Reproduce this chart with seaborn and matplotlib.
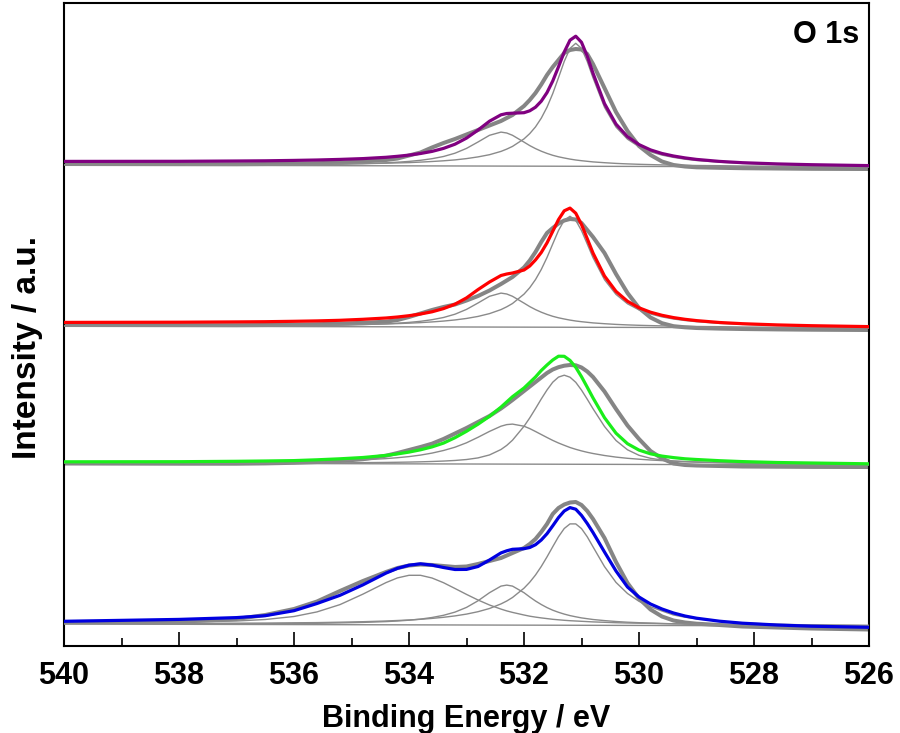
import numpy as np
import matplotlib
matplotlib.use("Agg")
import matplotlib.pyplot as plt
import seaborn as sns
from matplotlib.ticker import MultipleLocator

# Binding energy sampling points (eV)
energy = [540.0, 538.0, 537.0, 536.5, 536.0, 535.6, 535.2, 534.8, 534.4, 534.2, 534.0,
          533.8, 533.6, 533.4, 533.2, 533.0, 532.8, 532.6, 532.4, 532.3, 532.2, 532.0,
          531.9, 531.8, 531.7, 531.6, 531.5, 531.4, 531.3, 531.2, 531.1, 531.0, 530.9, 530.8,
          530.6, 530.4, 530.2, 530.0, 529.8, 529.6, 529.4, 529.2, 529.0,
          528.6, 528.2, 527.6, 527.0, 526.0]

# Straight background line (endpoints)
baseline_energy = [540.0, 526.0]
baseline_level = [1.0, -1.0]

# ---- Spectrum 1 (purple) ----
raw_1 = [2.0, 1.8, 1.8, 2.0, 2.3, 2.8, 3.5, 4.5, 6.0, 7.5, 10.5, 13.5, 18.5, 23.0, 27.0, 31.5,
         36.0, 40.5, 45.0, 48.0, 51.0, 60.0, 66.0, 73.0, 81.5, 91.0, 99.0, 106.0, 113.0, 116.0, 117.0, 116.5,
         112.0, 102.0, 78.0, 54.0, 35.0, 20.0, 11.0, 4.5, 1.0, -0.5, -1.3, -1.8, -2.2, -2.5, -2.8, -3.0]
fit_1 = [4.6, 4.7, 5.0, 5.2, 5.6, 6.0, 6.6, 7.4, 8.7, 9.7, 10.9, 12.5, 14.6, 17.6, 21.8, 27.9,
         35.9, 44.8, 51.2, 52.5, 52.8, 53.3, 55.2, 58.8, 64.8, 73.4, 85.0, 99.2, 114.0, 125.8, 129.8, 123.7,
         109.8, 92.8, 62.4, 41.9, 29.3, 21.4, 16.1, 12.5, 10.0, 8.1, 6.6, 4.6, 3.3, 2.1, 1.3, 0.4]
peak_1a = [1.4, 1.3, 1.4, 1.5, 1.6, 1.8, 2.0, 2.3, 2.8, 3.1, 3.4, 3.9, 4.5, 5.2, 6.1, 7.4,
           9.1, 11.3, 14.6, 16.9, 19.6, 27.1, 32.4, 39.1, 47.8, 58.8, 72.4, 88.3, 104.6, 117.6, 122.7, 117.6,
           104.5, 88.2, 58.7, 38.9, 26.8, 19.3, 14.2, 10.9, 8.6, 6.8, 5.5, 3.8, 2.6, 1.5, 0.8, 0.1]
peak_1b = [1.2, 1.1, 1.2, 1.3, 1.4, 1.6, 1.9, 2.4, 3.2, 3.8, 4.6, 5.7, 7.3, 9.5, 12.8, 17.6,
           24.0, 30.7, 33.9, 33.0, 30.7, 23.9, 20.4, 17.4, 14.8, 12.6, 10.7, 9.2, 8.0, 6.9, 6.0, 5.3,
           4.7, 4.1, 3.3, 2.6, 2.1, 1.7, 1.4, 1.1, 0.9, 0.7, 0.5, 0.3, 0.0, -0.2, -0.4, -0.7]

# ---- Spectrum 2 (red) ----
raw_2 = [2.0, 1.8, 1.8, 2.0, 2.3, 2.8, 3.4, 4.2, 5.3, 7.0, 10.0, 13.5, 17.0, 20.0, 22.5, 26.5,
         31.0, 36.5, 43.0, 46.5, 50.0, 59.5, 66.5, 75.0, 85.0, 94.0, 99.0, 103.5, 106.5, 108.0, 107.5, 104.0,
         97.0, 90.0, 74.0, 53.0, 34.0, 19.0, 9.5, 3.8, 0.8, -0.3, -1.0, -1.6, -2.0, -2.4, -2.7, -3.0]
fit_2 = [4.6, 4.8, 5.1, 5.3, 5.7, 6.1, 6.7, 7.7, 9.0, 10.0, 11.3, 13.0, 15.2, 18.4, 22.8, 29.1,
         37.4, 45.0, 51.5, 53.0, 54.0, 57.0, 61.0, 67.1, 74.5, 84.1, 95.7, 107.4, 116.2, 118.9, 113.8, 102.5,
         88.3, 74.0, 51.0, 35.6, 25.7, 19.2, 14.8, 11.7, 9.4, 7.7, 6.4, 4.5, 3.3, 2.1, 1.3, 0.4]
peak_2a = [1.4, 1.35, 1.45, 1.56, 1.72, 1.9, 2.15, 2.53, 3.05, 3.41, 3.84, 4.38, 5.07, 5.93, 7.06, 8.55,
           10.57, 13.39, 17.41, 20.2, 23.49, 32.86, 39.3, 47.43, 57.5, 69.5, 83.1, 96.5, 106.8, 110.7, 106.7, 96.4,
           83.0, 69.4, 47.3, 32.6, 23.2, 17.1, 13.0, 10.1, 8.0, 6.5, 5.3, 3.6, 2.6, 1.5, 0.8, 0.1]
peak_2b = [1.2, 1.1, 1.2, 1.3, 1.4, 1.6, 1.9, 2.4, 3.2, 3.8, 4.6, 5.7, 7.3, 9.5, 12.8, 17.6,
           24.0, 30.7, 33.9, 33.0, 30.7, 23.9, 20.4, 17.4, 14.8, 12.6, 10.7, 9.2, 8.0, 6.9, 6.0, 5.3,
           4.7, 4.1, 3.3, 2.6, 2.1, 1.7, 1.4, 1.1, 0.9, 0.7, 0.5, 0.3, 0.0, -0.2, -0.4, -0.7]

# ---- Spectrum 3 (green) ----
raw_3 = [0.5, 0.3, 0.3, 0.6, 1.2, 2.0, 3.0, 4.8, 8.3, 11.0, 14.0, 17.0, 20.3, 25.0, 30.5, 36.0,
         42.0, 48.0, 55.5, 59.7, 64.0, 73.0, 77.5, 82.0, 86.5, 91.0, 94.5, 96.8, 98.3, 99.0, 98.7, 96.5,
         92.5, 87.0, 72.5, 55.0, 38.5, 25.0, 13.0, 5.5, 0.5, -1.0, -1.5, -2.0, -2.5, -2.7, -2.9, -3.0]
fit_3 = [2.2, 2.3, 2.7, 3.0, 3.4, 4.2, 5.2, 6.5, 8.6, 10.1, 11.9, 14.2, 17.1, 20.9, 26.3, 32.7,
         39.8, 47.7, 56.9, 62.1, 67.3, 76.0, 81.5, 87.0, 93.5, 99.0, 104.0, 107.8, 107.7, 103.6, 96.7, 87.3,
         76.8, 66.1, 46.3, 30.8, 20.3, 13.9, 10.2, 7.9, 6.4, 5.2, 4.5, 3.3, 2.4, 1.5, 1.0, 0.2]
peak_3a = [1.2, 1.0, 1.0, 1.0, 1.0, 1.1, 1.2, 1.35, 1.57, 1.73, 1.92, 2.17, 2.51, 2.94, 3.54, 4.48,
           6.09, 9.06, 14.5, 18.6, 23.8, 37.7, 46.1, 55.4, 65.0, 74.0, 81.8, 86.9, 88.8, 86.8, 81.7, 73.9,
           64.8, 55.3, 37.5, 23.5, 14.2, 8.7, 5.7, 4.0, 3.0, 2.3, 1.85, 1.15, 0.7, 0.2, -0.1, -0.5]
peak_3b = [1.5, 1.55, 1.8, 2.0, 2.3, 2.7, 3.3, 4.1, 5.4, 6.3, 7.4, 8.9, 10.9, 13.5, 16.8, 21.2,
           26.7, 32.6, 37.8, 39.4, 39.9, 37.8, 35.4, 32.5, 29.5, 26.5, 23.6, 21.0, 18.7, 16.5, 14.7, 13.1,
           11.7, 10.5, 8.5, 6.9, 5.7, 4.8, 4.0, 3.4, 2.9, 2.4, 2.1, 1.5, 1.0, 0.55, 0.2, -0.3]

# ---- Spectrum 4 (blue) ----
raw_4 = [3.0, 3.3, 6.0, 10.0, 16.0, 23.5, 34.0, 44.0, 53.0, 57.0, 59.5, 60.5, 60.0, 59.0, 58.0, 58.5,
         61.0, 64.0, 67.0, 69.5, 72.0, 77.0, 81.0, 86.0, 93.0, 101.0, 111.0, 117.0, 120.5, 122.5, 123.0, 120.0,
         114.0, 106.0, 87.0, 63.0, 42.0, 26.5, 15.5, 8.5, 4.5, 2.5, 1.3, 0.0, -1.5, -2.5, -3.5, -4.5]
fit_4 = [3.7, 5.6, 7.4, 9.3, 14.3, 21.5, 29.7, 40.2, 51.9, 56.7, 59.8, 61.2, 59.9, 57.5, 55.5, 55.6,
         58.5, 65.0, 72.1, 74.2, 75.7, 76.3, 77.5, 80.3, 85.0, 91.3, 99.2, 107.4, 114.0, 117.4, 115.8, 109.6,
         101.5, 92.5, 73.0, 54.0, 38.0, 28.0, 21.0, 16.0, 12.0, 9.0, 6.8, 3.8, 1.8, 0.0, -1.2, -2.3]
peak_4a = [1.5, 1.6, 1.8, 1.9, 2.2, 2.4, 2.8, 3.3, 4.0, 4.5, 5.0, 5.7, 6.6, 7.7, 9.1, 10.9,
           13.3, 16.5, 21.1, 24.0, 27.5, 36.8, 42.8, 50.0, 58.5, 68.1, 78.3, 88.3, 96.5, 101.1, 101.1, 96.4,
           88.2, 78.2, 58.4, 42.6, 31.5, 23.7, 18.2, 14.0, 10.0, 7.8, 6.2, 3.9, 2.0, 0.8, 0.0, -0.6]
peak_4b = [1.3, 1.2, 1.3, 1.4, 1.5, 1.7, 2.1, 2.6, 3.4, 4.0, 4.8, 5.9, 7.5, 9.7, 12.9, 17.6,
           24.2, 32.3, 38.9, 39.9, 38.9, 32.3, 28.0, 24.0, 20.5, 17.4, 14.8, 12.7, 10.9, 9.4, 8.2, 7.1,
           6.3, 5.5, 4.4, 3.5, 2.8, 2.3, 1.9, 1.5, 1.2, 1.0, 0.8, 0.5, 0.2, -0.1, -0.3, -0.6]
peak_4c = [1.9, 2.7, 4.0, 5.5, 8.5, 13.1, 20.4, 30.9, 42.4, 47.1, 49.7, 49.7, 47.0, 42.3, 36.5, 30.6,
           25.0, 20.0, 15.9, 14.1, 12.6, 10.0, 8.8, 7.9, 7.1, 6.4, 5.7, 5.2, 4.7, 4.3, 4.0, 3.7,
           3.4, 3.1, 2.7, 2.3, 2.0, 1.8, 1.6, 1.4, 1.2, 1.0, 0.9, 0.6, 0.4, 0.1, -0.1, -0.4]

fit_colors = ["#800080", "#ff0000", "#1aee1a", "#0000e0"]
stack_offsets = [480, 319, 182, 21]

RAW_GRAY = "#858585"
COMP_GRAY = "#8a8a8a"

spectra = [
    (raw_1, fit_1, [peak_1a, peak_1b]),
    (raw_2, fit_2, [peak_2a, peak_2b]),
    (raw_3, fit_3, [peak_3a, peak_3b]),
    (raw_4, fit_4, [peak_4a, peak_4b, peak_4c]),
]

sns.set_style("white")
plt.rcParams["font.family"] = ["Liberation Sans", "DejaVu Sans"]
plt.rcParams["font.weight"] = "bold"
plt.rcParams["text.color"] = "black"
plt.rcParams["axes.labelcolor"] = "black"
plt.rcParams["xtick.color"] = "black"
plt.rcParams["ytick.color"] = "black"

fig = plt.figure(figsize=(9.0, 7.33), dpi=100)
ax = fig.add_axes([64 / 900, 1 - 646 / 733, 805 / 900, 643 / 733])

for (raw, fit, comps), color, off in zip(spectra, fit_colors, stack_offsets):
    sns.lineplot(x=energy, y=np.array(raw) + off, color=RAW_GRAY, linewidth=2.9,
                 sort=False, estimator=None, ax=ax, zorder=2)
    sns.lineplot(x=baseline_energy, y=np.array(baseline_level) + off, color=COMP_GRAY,
                 linewidth=1.0, sort=False, estimator=None, ax=ax, zorder=3)
    for comp in comps:
        sns.lineplot(x=energy, y=np.array(comp) + off, color=COMP_GRAY, linewidth=1.0,
                     sort=False, estimator=None, ax=ax, zorder=3)
    sns.lineplot(x=energy, y=np.array(fit) + off, color=color, linewidth=2.3,
                 sort=False, estimator=None, ax=ax, zorder=4)

ax.set_xlim(540, 526)
ax.set_ylim(0, 643)
ax.xaxis.set_major_locator(MultipleLocator(2))
ax.xaxis.set_minor_locator(MultipleLocator(1))
ax.tick_params(axis="x", which="major", direction="in", length=10, width=1.2,
               labelsize=22, pad=11, bottom=True, top=False, colors="black")
ax.tick_params(axis="x", which="minor", direction="in", length=5.5, width=1.2,
               bottom=True, top=False, colors="black")
ax.set_yticks([])
for lbl in ax.get_xticklabels():
    lbl.set_fontweight("bold")
    lbl.set_color("black")
for sp in ax.spines.values():
    sp.set_visible(True)
    sp.set_color("black")
    sp.set_linewidth(1.5)

ax.set_xlabel("Binding Energy / eV", fontsize=22, fontweight="bold", labelpad=9, color="black")
ax.set_ylabel("Intensity / a.u.", fontsize=24, fontweight="bold", color="black")
ax.yaxis.set_label_coords(-0.026, 0.465)
ax.text(0.9876, 0.95, "O 1s", transform=ax.transAxes, ha="right", va="center",
        fontsize=22, fontweight="bold", color="black")

fig.savefig("out.png", dpi=100)
